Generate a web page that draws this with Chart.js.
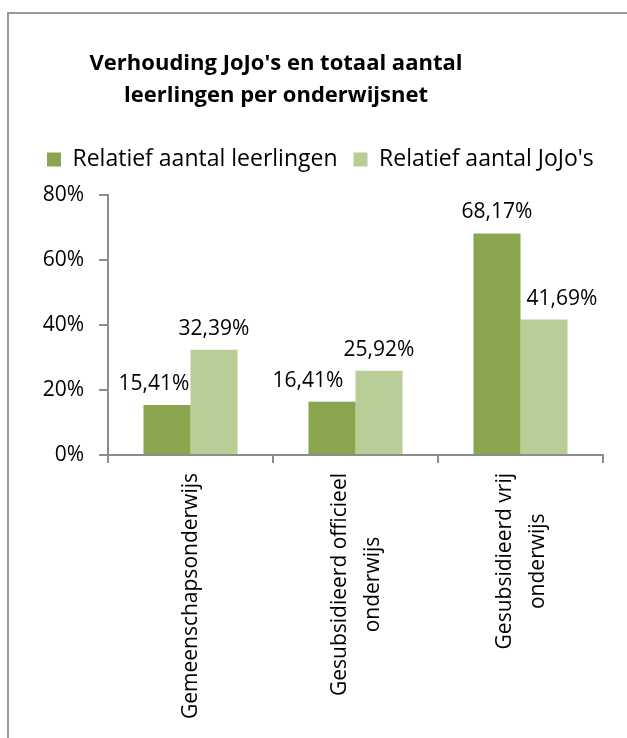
<!DOCTYPE html>
<html>
<head>
<meta charset="utf-8">
<script src="https://cdn.jsdelivr.net/npm/chart.js@4/dist/chart.umd.min.js"></script>
<style>
  html, body { margin: 0; padding: 0; background: #fff; width: 627px; height: 738px; overflow: hidden; }
  #frame { position: absolute; left: 7px; top: 12px; width: 700px; height: 800px; border: 2px solid #9a9a9a; box-sizing: border-box; }
  #c { position: absolute; left: 0; top: 0; }
</style>
</head>
<body>
<div id="frame"></div>
<canvas id="c" width="627" height="738"></canvas>
<script>
const titleLines = ["Verhouding JoJo's en totaal aantal", "leerlingen per onderwijsnet"];
const categories = [["Gemeenschapsonderwijs"], ["Gesubsidieerd officieel", "onderwijs"], ["Gesubsidieerd vrij", "onderwijs"]];
const seriesNames = ["Relatief aantal leerlingen", "Relatief aantal JoJo's"];
const leerlingen = [15.41, 16.41, 68.17];
const jojos = [32.39, 25.92, 41.69];
const yTicks = [0, 20, 40, 60, 80];

const FONT = "'Open Sans', 'Noto Sans', sans-serif";
const fmt = v => v.toFixed(2).replace('.', ',') + '%';

const titlePlugin = {
  id: 'customTitle',
  afterDraw(chart) {
    const ctx = chart.ctx;
    ctx.save();
    ctx.font = "bold 22px " + FONT;
    ctx.fillStyle = '#000';
    ctx.textAlign = 'center';
    ctx.textBaseline = 'alphabetic';
    titleLines.forEach((t, i) => ctx.fillText(t, 276, 70 + i * 32));
    ctx.restore();
  }
};

// legend: keep one row (it may run into the right padding) and add space below it
const legendSpacer = {
  id: 'legendSpacer',
  beforeLayout(chart) {
    const lg = chart.legend;
    if (lg && !lg._spacerPatched) {
      const origFit = lg.fit.bind(lg);
      lg.fit = function () {
        const mw = this.maxWidth;
        this.maxWidth = mw + 40;
        origFit();
        this.maxWidth = mw;
        this.height += 14;
      };
      const origDraw = lg.draw.bind(lg);
      lg.draw = function () {
        const r = this.right;
        this.right = chart.width;
        origDraw();
        this.right = r;
      };
      lg._spacerPatched = true;
    }
  }
};

const dataLabelPlugin = {
  id: 'dataLabels',
  afterDatasetsDraw(chart, args, opts) {
    const ctx = chart.ctx;
    ctx.save();
    ctx.font = "21px " + FONT;
    ctx.fillStyle = '#000';
    ctx.textAlign = 'center';
    ctx.textBaseline = 'alphabetic';
    chart.data.datasets.forEach((ds, di) => {
      const meta = chart.getDatasetMeta(di);
      meta.data.forEach((bar, i) => {
        const dx = opts.shift[di][i];
        ctx.fillText(fmt(ds.data[i]), bar.x + dx, bar.y - 15);
      });
    });
    ctx.restore();
  }
};

const xLabelPlugin = {
  id: 'xLabels',
  afterDraw(chart) {
    const ctx = chart.ctx;
    const xs = chart.scales.x;
    ctx.save();
    ctx.font = "21px " + FONT;
    ctx.fillStyle = '#000';
    ctx.textBaseline = 'middle';
    ctx.textAlign = 'center';
    const lh = 33;
    categories.forEach((lines, i) => {
      const cx = xs.getPixelForValue(i) + 1;
      const maxW = Math.max(...lines.map(l => ctx.measureText(l).width));
      ctx.save();
      ctx.translate(cx, xs.top + 18);
      ctx.rotate(-Math.PI / 2);
      lines.forEach((l, j) => {
        ctx.fillText(l, -maxW / 2, (j - (lines.length - 1) / 2) * lh);
      });
      ctx.restore();
    });
    ctx.restore();
  }
};

new Chart(document.getElementById('c'), {
  type: 'bar',
  data: {
    labels: categories,
    datasets: [
      { label: seriesNames[0], data: leerlingen, backgroundColor: '#89a54e', borderWidth: 0 },
      { label: seriesNames[1], data: jojos, backgroundColor: '#b9cd96', borderWidth: 0 }
    ]
  },
  options: {
    responsive: false,
    animation: false,
    devicePixelRatio: 1,
    layout: { padding: { top: 132, left: 31, right: 24, bottom: 0 } },
    datasets: { bar: { categoryPercentage: 0.57, barPercentage: 1.0 } },
    plugins: {
      title: { display: false },
      tooltip: { enabled: false },
      legend: {
        position: 'top',
        align: 'start',
        labels: {
          boxWidth: 14, boxHeight: 14, padding: 16,
          color: '#000',
          font: { family: FONT, size: 23 }
        }
      },
      dataLabels: { shift: [[-13, -24, 0], [0, 0, 18]] }
    },
    scales: {
      x: {
        grid: { display: true, drawOnChartArea: false, drawTicks: true, tickLength: 8, color: '#8c8c8c', lineWidth: 2, offset: true },
        border: { display: true, color: '#8c8c8c', width: 2 },
        ticks: { display: false },
        afterFit(s) { s.height = 283; }
      },
      y: {
        min: 0, max: 80,
        afterBuildTicks(s) { s.ticks = yTicks.map(v => ({ value: v })); },
        grid: { display: true, drawOnChartArea: false, drawTicks: true, tickLength: 9, color: '#8c8c8c', lineWidth: 2 },
        border: { display: true, color: '#8c8c8c', width: 2 },
        ticks: { padding: 15, color: '#000', font: { family: FONT, size: 21 }, callback: v => v + '%' },
        afterFit(s) { s.width = 77; }
      }
    }
  },
  plugins: [legendSpacer, titlePlugin, dataLabelPlugin, xLabelPlugin]
});
</script>
</body>
</html>
